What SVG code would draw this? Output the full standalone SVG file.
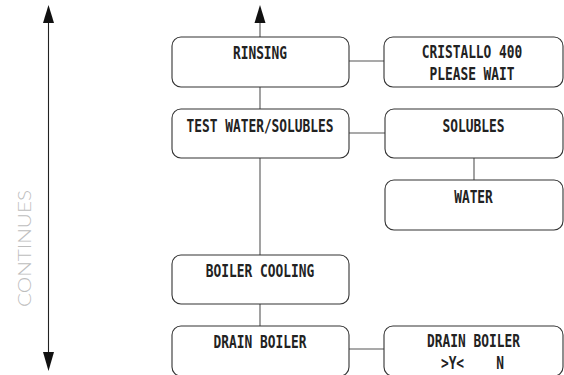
<svg xmlns="http://www.w3.org/2000/svg" width="564" height="375" viewBox="0 0 564 375">
<style>
.box{fill:#fff;stroke:#333;stroke-width:1.1}
.ln{stroke:#555;stroke-width:1.1;fill:none}
.ah{fill:#111}
.t{font-family:"DejaVu Sans Mono","Liberation Mono",monospace;font-weight:bold;font-size:18px;fill:#222;text-anchor:middle}
.side{font-family:Lato,"Noto Sans",sans-serif;font-weight:300;font-size:18px;fill:#bdbdbd;text-anchor:middle}
</style>
<rect width="564" height="375" fill="#fff"/>
<g id="continues">
<line class="ln" x1="48.5" y1="20" x2="48.5" y2="355" style="stroke:#222"/>
<polygon class="ah" points="48.5,5 43,23 54,23"/>
<polygon class="ah" points="48.5,371 43,352 54,352"/>
<text class="side" transform="translate(30.5,248.5) rotate(-90)" textLength="117" lengthAdjust="spacingAndGlyphs">CONTINUES</text>
</g>
<g id="connectors">
<line class="ln" x1="260" y1="20" x2="260" y2="37"/>
<polygon class="ah" points="260,5 254.5,23 265.5,23"/>
<line class="ln" x1="260" y1="87" x2="260" y2="109"/>
<line class="ln" x1="260" y1="158" x2="260" y2="255"/>
<line class="ln" x1="260" y1="304" x2="260" y2="326"/>
<line class="ln" x1="349" y1="61" x2="384" y2="61"/>
<line class="ln" x1="349" y1="133" x2="385" y2="133"/>
<line class="ln" x1="474" y1="158" x2="474" y2="180"/>
<line class="ln" x1="349" y1="349" x2="384" y2="349"/>
</g>
<g id="rinsing">
<rect class="box" x="172" y="37" width="177" height="50" rx="9"/>
<text class="t" transform="translate(260,59) scale(0.715,1)">RINSING</text>
</g>
<g id="cristallo">
<rect class="box" x="384" y="37" width="179" height="50" rx="9"/>
<text class="t" transform="translate(472,58) scale(0.715,1)">CRISTALLO 400</text>
<text class="t" transform="translate(472,80) scale(0.715,1)">PLEASE WAIT</text>
</g>
<g id="test">
<rect class="box" x="172" y="109" width="177" height="49" rx="9"/>
<text class="t" transform="translate(260,131.5) scale(0.715,1)">TEST WATER/SOLUBLES</text>
</g>
<g id="solubles">
<rect class="box" x="385" y="109" width="178" height="49" rx="9"/>
<text class="t" transform="translate(473.5,132) scale(0.715,1)">SOLUBLES</text>
</g>
<g id="water">
<rect class="box" x="385" y="180" width="178" height="50" rx="9"/>
<text class="t" transform="translate(473.5,203) scale(0.715,1)">WATER</text>
</g>
<g id="boiler-cooling">
<rect class="box" x="172" y="255" width="177" height="49" rx="9"/>
<text class="t" transform="translate(260,277) scale(0.715,1)">BOILER COOLING</text>
</g>
<g id="drain-boiler">
<rect class="box" x="172" y="326" width="177" height="50" rx="9"/>
<text class="t" transform="translate(260,348) scale(0.715,1)">DRAIN BOILER</text>
</g>
<g id="drain-confirm">
<rect class="box" x="384" y="326" width="179" height="50" rx="9"/>
<text class="t" transform="translate(473.5,347) scale(0.715,1)">DRAIN BOILER</text>
<text class="t" transform="translate(452.5,369) scale(0.715,1)">&gt;Y&lt;</text>
<text class="t" transform="translate(500,369) scale(0.715,1)">N</text>
</g>
</svg>
